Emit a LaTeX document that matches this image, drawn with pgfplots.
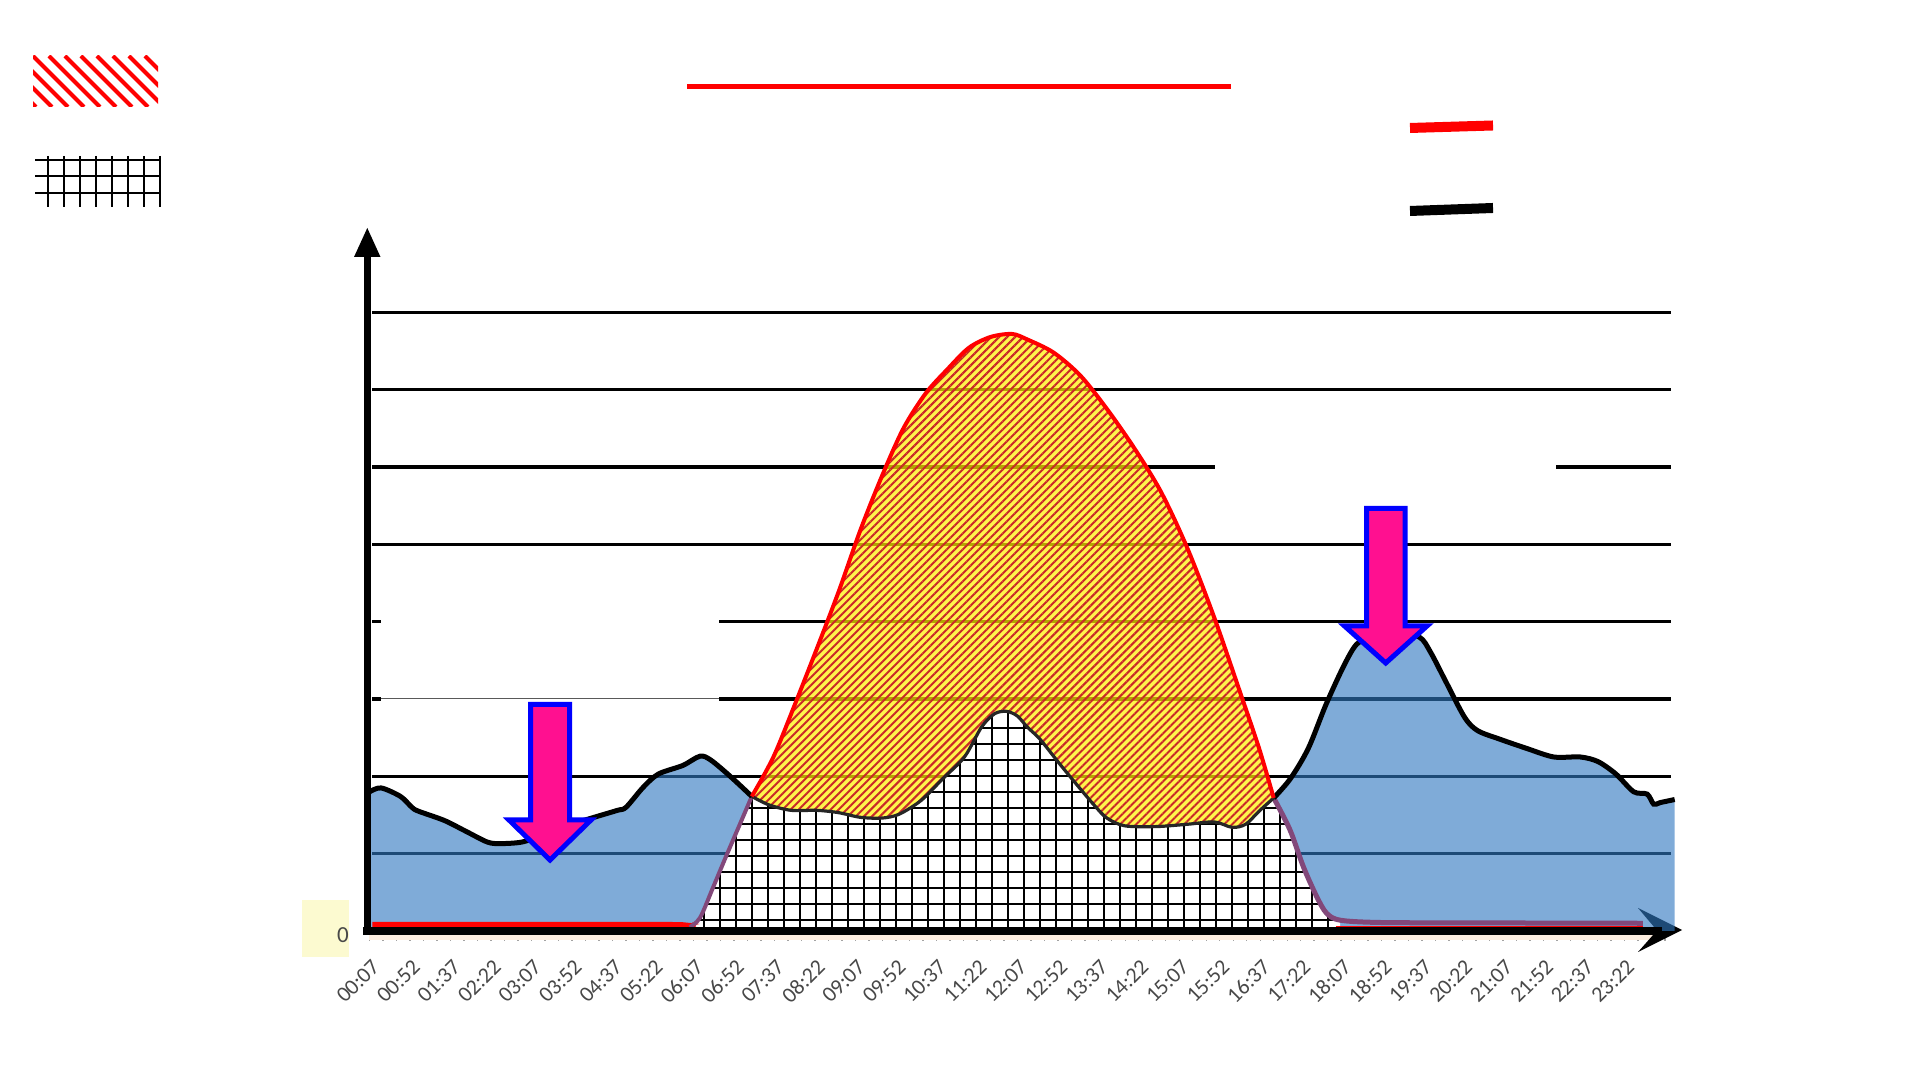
\documentclass[border=0pt]{standalone}
\usepackage{pgfplots}
\pgfplotsset{compat=1.18}
\usepackage{pgfplotstable}
\usepgfplotslibrary{fillbetween}
\usetikzlibrary{patterns.meta}
\usepackage{fontspec}
\setmainfont{Carlito}
\definecolor{areablue}{RGB}{48,120,192}
\definecolor{mauve}{RGB}{130,72,122}
\definecolor{hatchred}{RGB}{200,40,40}
\definecolor{hatchyel}{RGB}{255,240,0}
\definecolor{pinkarrow}{RGB}{255,16,144}
\definecolor{lblgray}{RGB}{72,72,72}
\definecolor{zeroyel}{RGB}{252,250,208}
\definecolor{peach}{RGB}{252,236,222}

\pgfplotstableread{
h y
0.00 1.80
0.21 1.85
0.57 1.74
0.78 1.60
0.90 1.55
1.38 1.43
1.78 1.29
2.18 1.15
2.42 1.13
2.82 1.15
3.20 1.24
3.60 1.35
4.11 1.46
4.59 1.56
4.75 1.60
5.07 1.86
5.35 2.03
5.80 2.14
6.12 2.26
6.32 2.21
6.68 2.00
7.08 1.74
7.40 1.63
7.81 1.56
8.29 1.56
8.69 1.53
9.09 1.47
9.49 1.46
9.81 1.51
10.22 1.69
10.62 1.97
11.02 2.25
11.34 2.64
11.58 2.81
11.80 2.84
12.00 2.78
12.18 2.64
12.42 2.48
12.75 2.19
13.08 1.91
13.42 1.63
13.66 1.46
13.99 1.36
14.57 1.35
15.15 1.38
15.65 1.41
15.98 1.34
16.23 1.38
16.48 1.55
16.75 1.72
17.06 1.97
17.39 2.36
17.72 2.93
18.05 3.43
18.29 3.71
18.60 3.82
19.00 3.85
19.45 3.80
19.66 3.60
19.95 3.21
20.29 2.76
20.53 2.59
20.94 2.48
21.44 2.36
21.94 2.25
22.43 2.25
22.76 2.19
23.09 2.03
23.42 1.80
23.67 1.77
23.79 1.64
23.91 1.66
24.18 1.70
}\blackdata

\pgfplotstableread{
h y
7.08 1.74
7.48 2.25
7.89 2.95
8.29 3.66
8.69 4.39
9.09 5.18
9.49 5.88
9.89 6.50
10.30 6.95
10.70 7.26
11.10 7.54
11.50 7.68
11.90 7.72
12.18 7.65
12.67 7.48
13.17 7.18
13.66 6.75
14.16 6.25
14.66 5.68
15.15 4.95
15.65 4.05
16.15 3.04
16.48 2.36
16.75 1.72
}\reddata

\pgfplotstableread{
h y
5.96 0.05
6.12 0.17
6.36 0.56
6.60 0.96
6.84 1.35
7.08 1.74
7.40 1.63
7.81 1.56
8.29 1.56
8.69 1.53
9.09 1.47
9.49 1.46
9.81 1.51
10.22 1.69
10.62 1.97
11.02 2.25
11.34 2.64
11.58 2.81
11.80 2.84
12.00 2.78
12.18 2.64
12.42 2.48
12.75 2.19
13.08 1.91
13.42 1.63
13.66 1.46
13.99 1.36
14.57 1.35
15.15 1.38
15.65 1.41
15.98 1.34
16.23 1.38
16.48 1.55
16.75 1.72
17.05 1.31
17.30 0.83
17.55 0.44
17.73 0.23
17.98 0.12
}\griddata

\begin{document}
\begin{tikzpicture}
\begin{scope}[x=0.5pt,y=-0.5pt,yshift=540pt]
  % legend-like samples
  \begin{scope}
    \clip (33,56) rectangle (158,107);
    \foreach \i in {-4,...,10} \draw[red, line width=2.1pt] ({33+16*\i},56) -- ++(51,51);
  \end{scope}
  \foreach \xx in {48,64,...,160} \draw[line width=1pt] (\xx,156) -- (\xx,207);
  \foreach \yy in {160,176,193} \draw[line width=1pt] (35,\yy) -- (160,\yy);
  \draw[red, line width=2.5pt] (687,86.8) -- (1231,86.8);
  \draw[red, line width=5pt] (1410,128) -- (1493,125.5);
  \draw[black, line width=5pt] (1410,211) -- (1493,208);
  % zero label box
  \fill[zeroyel] (302,900) rectangle (349,957);
  \fill[peach] (369,935) rectangle (1660,940);
  % horizontal gridlines
  \foreach \yy in {853.7,776.3,544.4,389.7,312.4}
    \draw[line width=1.75pt] (372,\yy) -- (1671,\yy);
  \draw[line width=1.75pt] (372,699.0) -- (381,699.0);
  \draw[gray!70!black, line width=0.5pt] (381,699.0) -- (719,699.0);
  \draw[line width=1.75pt] (719,699.0) -- (1671,699.0);
  \draw[line width=1.75pt] (372,621.7) -- (381,621.7);
  \draw[line width=1.75pt] (719,621.7) -- (1671,621.7);
  \draw[line width=1.75pt] (372,467.0) -- (1215,467.0);
  \draw[line width=1.75pt] (1556,467.0) -- (1671,467.0);
  % x axis arrow head
  \fill (1682,930) -- (1638,908) -- (1657,930.5) -- (1638,952) -- cycle;
\end{scope}

\begin{axis}[
  at={(184.85pt,74.5pt)}, anchor=south west,
  scale only axis, width=656pt, height=351.5pt,
  xmin=0, xmax=24.31, ymin=0, ymax=9.09,
  clip=false,
  axis lines*=left,
  axis line style={draw=none},
  tick align=outside,
  major tick length=0pt,
  minor tick length=5pt,
  minor tick style={lblgray!50, line width=0.7pt},
  xtick={0.1167,0.8667,1.6167,2.3667,3.1167,3.8667,4.6167,5.3667,6.1167,6.8667,7.6167,8.3667,9.1167,9.8667,10.6167,11.3667,12.1167,12.8667,13.6167,14.3667,15.1167,15.8667,16.6167,17.3667,18.1167,18.8667,19.6167,20.3667,21.1167,21.8667,22.6167,23.3667},
  xticklabels={00:07,00:52,01:37,02:22,03:07,03:52,04:37,05:22,06:07,06:52,07:37,08:22,09:07,09:52,10:37,11:22,12:07,12:52,13:37,14:22,15:07,15:52,16:37,17:22,18:07,18:52,19:37,20:22,21:07,21:52,22:37,23:22},
  minor xtick={0,0.25,...,24},
  xticklabel style={rotate=45, anchor=east, inner sep=0pt, font=\fontsize{11pt}{13pt}\selectfont, text=lblgray},
  xticklabel shift=16pt,
  ytick={0}, yticklabels={0},
  yticklabel style={anchor=center, inner sep=0pt, yshift=-2pt, font=\fontsize{11.5pt}{13pt}\selectfont, text=lblgray},
  yticklabel shift=13.35pt,
]
% named paths
\addplot[draw=none, name path=Bday, smooth, restrict x to domain=7.0:16.8] table[x=h,y=y] {\blackdata};
\addplot[draw=none, name path=R, smooth] table[x=h,y=y] {\reddata};
% blue area
\addplot[draw=none, fill=areablue, fill opacity=0.62, smooth] table[x=h,y=y] {\blackdata} \closedcycle;
% grid area
\addplot[draw=none, fill=white] table[x=h,y=y] {\griddata} \closedcycle;
\addplot[draw=none, pattern={Hatch[angle=0,distance=8pt,line width=0.8pt]}, pattern color=black] table[x=h,y=y] {\griddata} \closedcycle;
% hatched area
\addplot[draw=none, fill=hatchyel, fill opacity=0.7] fill between[of=R and Bday, on layer=main];
\addplot[draw=none, pattern={Lines[angle=45,distance=2.83pt,line width=1.0pt]}, pattern color=hatchred] fill between[of=R and Bday, on layer=main];
% bottom lines
\addplot[red, line width=2.5pt, smooth] coordinates {(0.05,0.085) (5.45,0.085) (5.65,0.06) (5.80,0.01) (5.93,0.04) (6.02,0.09)};
\addplot[red, line width=1.5pt] coordinates {(17.9,0.05) (23.6,0.05)};
\addplot[mauve, line width=2pt, smooth] coordinates {(5.93,0.05) (6.12,0.17) (6.36,0.56) (6.60,0.96) (6.84,1.35) (7.08,1.74)};
\addplot[mauve, line width=2.5pt, smooth] coordinates {(16.75,1.72) (17.05,1.31) (17.30,0.83) (17.55,0.44) (17.73,0.23) (17.98,0.14) (18.72,0.11) (20.5,0.105) (23.59,0.10)};
% black curve
\addplot[black, line width=2.5pt, smooth, restrict x to domain=0:7.1] table[x=h,y=y] {\blackdata};
\addplot[black, line width=2.5pt, smooth, restrict x to domain=16.7:24.3] table[x=h,y=y] {\blackdata};
\addplot[black!85, line width=1.6pt, smooth, restrict x to domain=7.0:16.8] table[x=h,y=y] {\blackdata};
% red curve
\addplot[red, line width=2pt, smooth] table[x=h,y=y] {\reddata};
\end{axis}

\begin{scope}[x=0.5pt,y=-0.5pt,yshift=540pt]
  % axes
  \draw[line width=4pt] (363,931) -- (1662,931);
  \draw[line width=3.5pt] (367,935) -- (367,250);
  \fill (354,257) -- (380.5,257) -- (367.3,228) -- cycle;
  % arrows
  \draw[blue, line width=2.5pt, fill=pinkarrow, line join=miter, miter limit=10]
    (530.5,704.5) -- (569.5,704.5) -- (569.5,820) -- (591,820) -- (550,860) -- (509,820) -- (530.5,820) -- cycle;
  \draw[blue, line width=2.5pt, fill=pinkarrow, line join=miter, miter limit=10]
    (1366.5,508.5) -- (1405,508.5) -- (1405,626) -- (1427,626) -- (1385.7,663) -- (1344.5,626) -- (1366.5,626) -- cycle;
\end{scope}
\pgfresetboundingbox
\path[use as bounding box] (0,0) rectangle (960pt,540pt);
\end{tikzpicture}
\end{document}
